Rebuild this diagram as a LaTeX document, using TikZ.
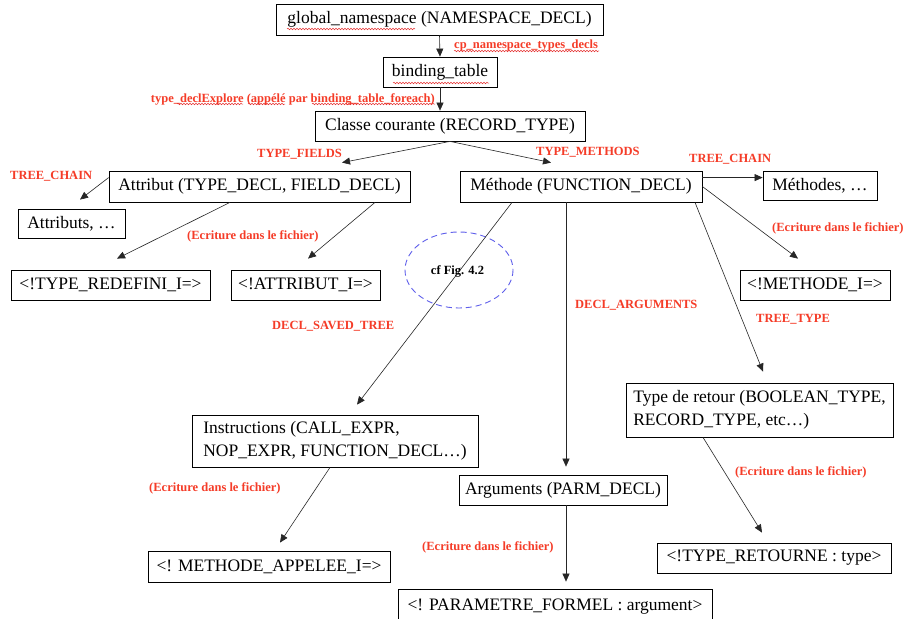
\documentclass[tikz,border=0pt]{standalone}
\usepackage{fontspec}
\setmainfont{Liberation Serif}
\usetikzlibrary{arrows.meta,decorations.pathmorphing,calc}
\definecolor{lblred}{RGB}{245,60,40}
\definecolor{ellblue}{RGB}{95,95,235}
\definecolor{wavred}{RGB}{230,50,50}
\begin{document}
\begin{tikzpicture}[x=1pt,y=-1pt,
  box/.style={draw, line width=0.8pt, inner sep=0pt, font=\fontsize{17.5}{23}\selectfont},
  lbl/.style={text=lblred, font=\bfseries\fontsize{12.5}{14}\selectfont, inner sep=0pt},
  arr/.style={-{Triangle[length=8pt,width=7pt]}, line width=0.6pt, draw=black!85},
  wav/.style={draw=wavred, line width=0.5pt, decorate, decoration={snake,amplitude=0.8pt,segment length=3pt}}]
\useasboundingbox[fill=white] (0,0) rectangle (904,618);

% boxes
\node[box, minimum width=327pt, minimum height=31pt] (gn) at (439.5,19.5) {global\_namespace (NAMESPACE\_DECL)};
\node[box, minimum width=114pt, minimum height=30pt] (bt) at (440,72) {binding\_table};
\node[box, minimum width=270pt, minimum height=30pt] (cc) at (450,126) {Classe courante (RECORD\_TYPE)};
\node[box, minimum width=301pt, minimum height=31pt] (att) at (259.5,186.5) {Attribut (TYPE\_DECL, FIELD\_DECL)};
\node[box, minimum width=107pt, minimum height=29pt] (attrs) at (71.5,223.5) {Attributs, …};
\node[box, minimum width=199pt, minimum height=30pt] (tr) at (110.5,285) {<!TYPE\_REDEFINI\_I=>};
\node[box, minimum width=149pt, minimum height=30pt] (ab) at (305.5,285) {<!ATTRIBUT\_I=>};
\node[box, minimum width=242pt, minimum height=31pt] (meth) at (581,186.5) {Méthode (FUNCTION\_DECL)};
\node[box, minimum width=114pt, minimum height=29pt] (meths) at (820,185.5) {Méthodes, …};
\node[box, minimum width=150pt, minimum height=30pt] (mi) at (815,285) {<!METHODE\_I=>};
\node[box, minimum width=267pt, minimum height=54pt, align=left] (tret) at (759.5,410) {Type de retour (BOOLEAN\_TYPE,\\RECORD\_TYPE, etc…)};
\node[box, minimum width=234pt, minimum height=30pt] (trt) at (774,558) {<!TYPE\_RETOURNE : type>};
\node[box, minimum width=286pt, minimum height=52pt, align=left] (inst) at (335,441) {Instructions (CALL\_EXPR,\\NOP\_EXPR, FUNCTION\_DECL…)};
\node[box, minimum width=242pt, minimum height=31pt] (ma) at (269,566.5) {<! METHODE\_APPELEE\_I=>};
\node[box, minimum width=208pt, minimum height=30pt] (args) at (563,490) {Arguments (PARM\_DECL)};
\node[box, minimum width=314pt, minimum height=36pt] (pf) at (555,607) {<! PARAMETRE\_FORMEL : argument>};

% ellipse
\draw[ellblue, line width=0.9pt, dash pattern=on 6pt off 4pt] (459,270) ellipse [x radius=54, y radius=38];
\node[inner sep=0pt, font=\bfseries\fontsize{12.5}{14}\selectfont] (cf) at (457.5,271) {cf Fig. 4.2};

% connectors
\draw[arr] (gn.south) -- (bt.north);
\draw[arr] (bt.south) -- (bt.south |- cc.north);
\draw[arr] (cc.south) -- ($(att.north)+(82.5,-8)$);
\draw[arr] (cc.south) -- ($(meth.north)+(-30,-8)$);
\draw[arr] ($(att.north west)+(0,7)$) -- ($(attrs.north)+(8.5,-9)$);
\draw[arr] ($(att.south)+(-29.5,0)$) -- ($(tr.north)+(6.5,-11)$);
\draw[arr] ($(att.south)+(115.5,0)$) -- ($(ab.north)+(2.5,-11)$);
\draw[arr] ($(meth.north east)+(0,7)$) -- ($(meths.north west)+(0,7)$);
\draw[arr] (meth.east) -- ($(mi.north)+(-17,-11)$);
\draw[arr] ($(meth.south)+(114,0)$) -- ($(tret.north)+(3.5,-11)$);
\draw[arr] ($(meth.south)+(-15,0)$) -- ($(args.north)+(3,-8)$);
\draw[arr] ($(args.south)+(3,0)$) -- ($(pf.north)+(11,-7)$);
\draw[arr] ($(meth.south)+(-69,0)$) -- ($(inst.north)+(22,-10)$);
\draw[arr] ($(inst.south)+(-5,0)$) -- ($(ma.north)+(11,-8)$);
\draw[arr] ($(tret.south)+(-56.5,0)$) -- ($(trt.north)+(-12,-10)$);

% labels
\node[lbl, anchor=west] (l1) at (454,46) {cp\_namespace\_types\_decls};
\node[lbl, anchor=east] (l2) at (435,99) {type\_declExplore (appélé par binding\_table\_foreach)};
\node[lbl, anchor=west] (l3) at (257,154) {TYPE\_FIELDS};
\node[lbl, anchor=west] (l4) at (536,152) {TYPE\_METHODS};
\node[lbl, anchor=west] (l5) at (10,176) {TREE\_CHAIN};
\node[lbl, anchor=west] (l6) at (689,159) {TREE\_CHAIN};
\node[lbl, anchor=west] (l7) at (187,236) {(Ecriture dans le fichier)};
\node[lbl, anchor=west] (l8) at (772,228) {(Ecriture dans le fichier)};
\node[lbl, anchor=west] (l9) at (575,305) {DECL\_ARGUMENTS};
\node[lbl, anchor=west] (l10) at (756,319) {TREE\_TYPE};
\node[lbl, anchor=west] (l11) at (272,326) {DECL\_SAVED\_TREE};
\node[lbl, anchor=west] (l12) at (735,472) {(Ecriture dans le fichier)};
\node[lbl, anchor=west] (l13) at (149,488) {(Ecriture dans le fichier)};
\node[lbl, anchor=west] (l14) at (422,547) {(Ecriture dans le fichier)};

% spell-check wavy underlines
\draw[wav] (287,29) -- (415,29);
\draw[wav] (393,83) -- (489,83);
\draw[wav] (454,51) -- (599,51);
\draw[wav] (177,104) -- (243,104);
\draw[wav] (248,104) -- (285,104);
\draw[wav] (312,104) -- (435,104);
\end{tikzpicture}
\end{document}
